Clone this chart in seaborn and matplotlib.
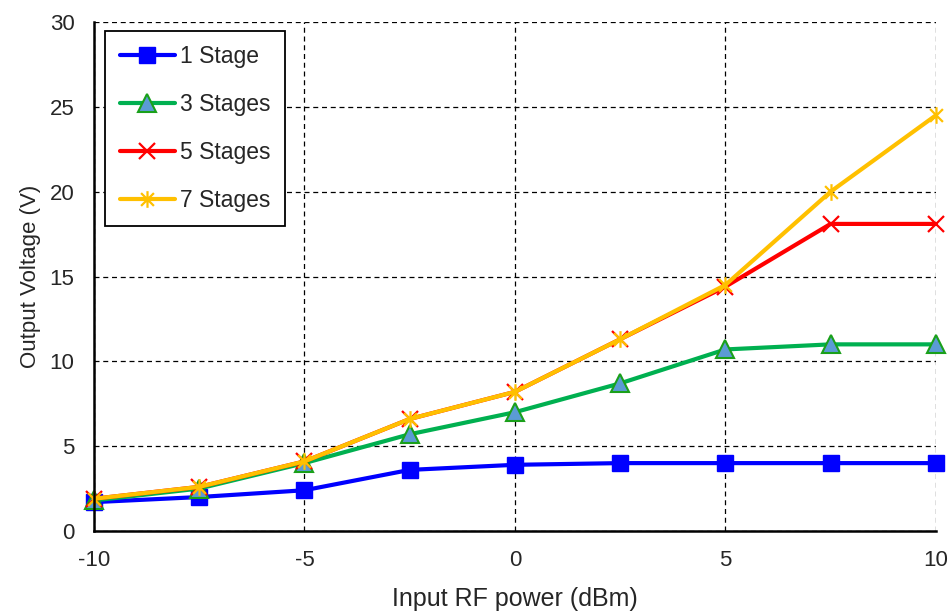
import matplotlib
matplotlib.use("Agg")
import matplotlib.pyplot as plt
import seaborn as sns
import pandas as pd
from matplotlib.path import Path

power_dbm = [-10, -7.5, -5, -2.5, 0, 2.5, 5, 7.5, 10]
stage1 = [1.7, 2.0, 2.4, 3.6, 3.9, 4.0, 4.0, 4.0, 4.0]
stage3 = [1.8, 2.5, 4.0, 5.7, 7.0, 8.7, 10.7, 11.0, 11.0]
stage5 = [1.9, 2.6, 4.1, 6.6, 8.2, 11.3, 14.4, 18.1, 18.1]
stage7 = [1.9, 2.6, 4.1, 6.6, 8.2, 11.3, 14.5, 20.0, 24.5]
series_names = ["1 Stage", "3 Stages", "5 Stages", "7 Stages"]
x_ticks = [-10, -5, 0, 5, 10]
y_ticks = [0, 5, 10, 15, 20, 25, 30]

sns.set_theme(style="white")
plt.rcParams["font.family"] = ["Liberation Sans", "DejaVu Sans"]

frames = []
for name, vals in zip(series_names, [stage1, stage3, stage5, stage7]):
    frames.append(pd.DataFrame({"power": power_dbm, "voltage": vals, "series": name}))
df = pd.concat(frames, ignore_index=True)

star = Path([(-1, -1), (1, 1), (-1, 1), (1, -1), (0, -1.3), (0, 1.3)],
            [Path.MOVETO, Path.LINETO, Path.MOVETO, Path.LINETO, Path.MOVETO, Path.LINETO])

styles = {
    "1 Stage": dict(color="#0000FF", marker="s", markersize=12, markerfacecolor="#0000FF",
                    markeredgecolor="#0000FF", markeredgewidth=1),
    "3 Stages": dict(color="#00B050", marker="^", markersize=13, markerfacecolor="#5B9BD5",
                     markeredgecolor="#1AA01A", markeredgewidth=1.5),
    "5 Stages": dict(color="#FF0000", marker="x", markersize=11, markerfacecolor="#FF0000",
                     markeredgecolor="#FF0000", markeredgewidth=1.6),
    "7 Stages": dict(color="#FFC000", marker=star, markersize=12, markerfacecolor="#FFC000",
                     markeredgecolor="#FFC000", markeredgewidth=1.6),
}

fig = plt.figure(figsize=(9.52, 6.12), dpi=100)
ax = fig.add_axes([0.0987, 0.1324, 0.8843, 0.8316])

for name in series_names:
    sub = df[df["series"] == name]
    sns.lineplot(data=sub, x="power", y="voltage", ax=ax, label=name, linewidth=3,
                 sort=False, clip_on=False, **styles[name])

ax.set_xlim(-10, 10)
ax.set_ylim(0, 30)
ax.set_xticks(x_ticks)
ax.set_yticks(y_ticks)
ax.set_xticklabels([str(t) for t in x_ticks], fontsize=16)
ax.set_yticklabels([str(t) for t in y_ticks], fontsize=16)
ax.set_xlabel("Input RF power (dBm)", fontsize=18, labelpad=11)
ax.set_ylabel("Output Voltage (V)", fontsize=16, labelpad=6)

ax.grid(True, color="black", linestyle=(0, (4, 3)), linewidth=0.9)
ax.set_axisbelow(True)
for s in ["top", "right"]:
    ax.spines[s].set_visible(False)
for s in ["left", "bottom"]:
    ax.spines[s].set_color("black")
    ax.spines[s].set_linewidth(1.8)
ax.tick_params(axis="both", direction="in", length=5, width=1, color="black", pad=14)

leg = ax.legend(loc="upper left", bbox_to_anchor=(0.0135, 0.982), fontsize=16.5,
                frameon=True, fancybox=False, edgecolor="black", framealpha=1,
                handlelength=2.4, labelspacing=1.08, handletextpad=0.25,
                borderpad=0.62, borderaxespad=0)
leg.get_frame().set_linewidth(1.3)

fig.savefig("out.png", dpi=100)
